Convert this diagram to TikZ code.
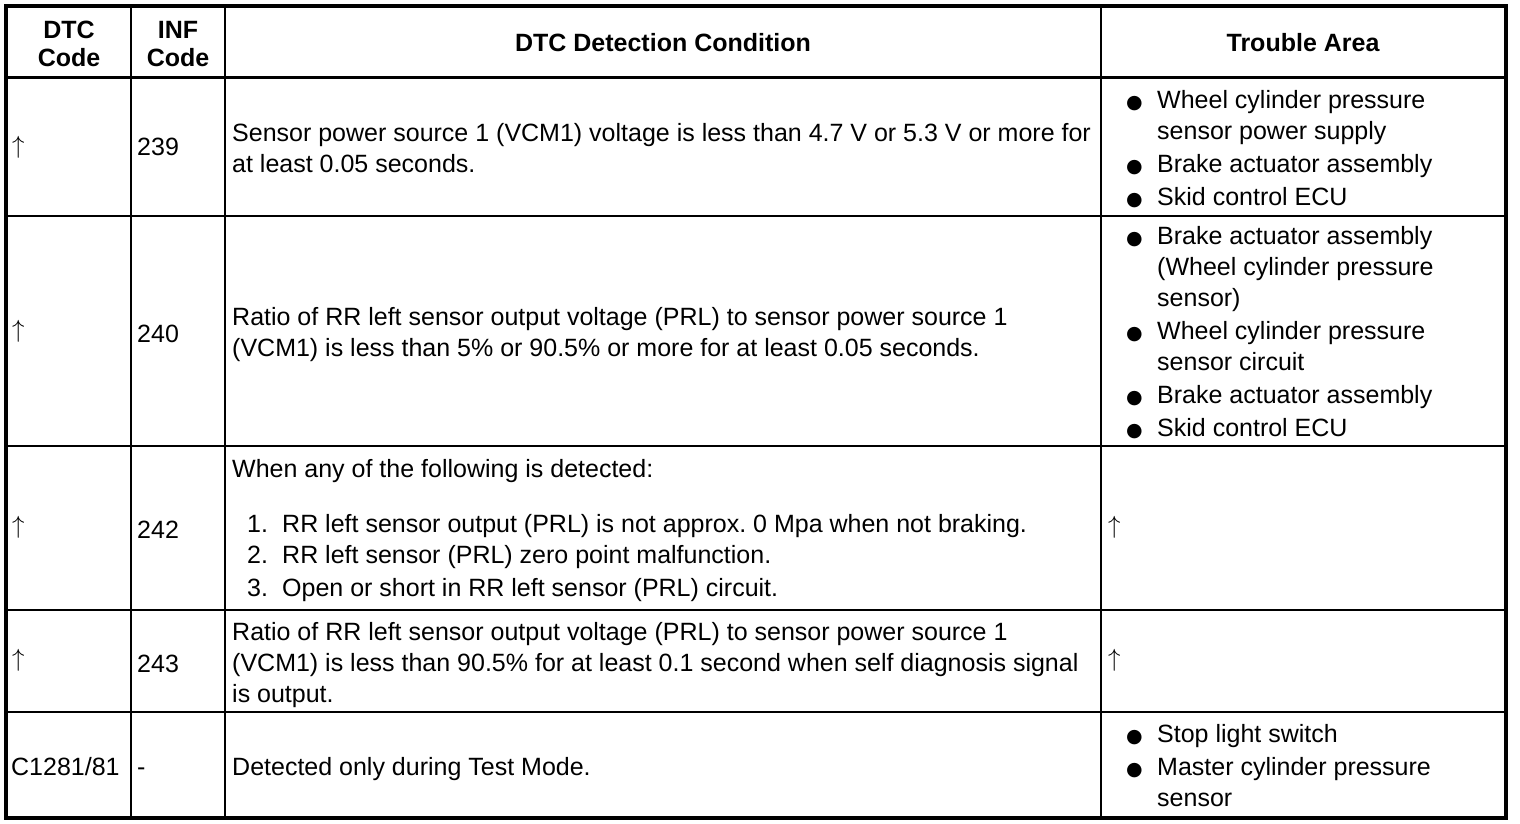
\documentclass[tikz,border=0pt]{standalone}
\usepackage{fontspec}
\setmainfont{Liberation Sans}
\newfontfamily\dejavu{DejaVu Sans}
\frenchspacing

\newcommand\bodysize{\fontsize{25}{31}\selectfont}
\newcommand\bul{\makebox[31pt][l]{{\dejavu\fontsize{19}{19}\selectfont ●}}}
\newcommand\ind{\hspace*{31pt}}
\newcommand\num[1]{\hspace*{15pt}\makebox[35pt][l]{#1}}
\newcommand\up{$\uparrow$}

\begin{document}
\begin{tikzpicture}[
        x=1pt,y=-1pt,
        frame/.style     = {line width=4pt},
        head rule/.style = {line width=3pt},
        rule/.style      = {line width=2pt},
        head/.style      = {inner sep=0pt,align=center,font=\fontsize{25}{28.5}\selectfont\bfseries},
        cell/.style      = {inner sep=0pt,anchor=west,align=left,font=\bodysize},
        one/.style       = {cell,anchor=base west}
    ]
    \useasboundingbox (0,0) rectangle (1520,824);

    % grid of the table
    \foreach \y in {216,446,610,712}
        \draw[rule] (6,\y) -- (1506,\y);
    \foreach \x in {131,225,1101}
        \draw[rule] (\x,6) -- (\x,818);
    \draw[head rule] (6,78) -- (1506,78);
    \draw[frame] (6,6) rectangle (1506,818);

    % header
    \node[head] (h dtc)  at (69,44)   {DTC\\Code};
    \node[head] (h inf)  at (178,44)  {INF\\Code};
    \node[head] (h cond) at (663,43)  {DTC Detection Condition};
    \node[head] (h area) at (1303,43) {Trouble Area};

    % INF 239
    \node[cell] (dtc1)  at (12,147)   {\up};
    \node[one]  (inf1)  at (137,156)  {239};
    \node[cell] (cond1) at (232,148)  {Sensor power source 1 (VCM1) voltage is less than 4.7 V or 5.3 V or more for\\at least 0.05 seconds.};
    \node[cell] (area1) at (1126,149) {\bul Wheel cylinder pressure\\\ind sensor power supply\\[2pt]\bul Brake actuator assembly\\[2pt]\bul Skid control ECU};

    % INF 240
    \node[cell] (dtc2)  at (12,331)   {\up};
    \node[one]  (inf2)  at (137,342)  {240};
    \node[cell] (cond2) at (232,335)  {Ratio of RR left sensor output voltage (PRL) to sensor power source 1\\(VCM1) is less than 5\% or 90.5\% or more for at least 0.05 seconds.};
    \node[cell] (area2) at (1126,333) {\bul Brake actuator assembly\\\ind (Wheel cylinder pressure\\\ind sensor)\\[2pt]\bul Wheel cylinder pressure\\\ind sensor circuit\\[2pt]\bul Brake actuator assembly\\[2pt]\bul Skid control ECU};

    % INF 242
    \node[cell] (dtc3)  at (12,527)   {\up};
    \node[one]  (inf3)  at (137,538)  {242};
    \node[cell] (cond3) at (232,531)  {When any of the following is detected:\\[24pt]\num{1.}RR left sensor output (PRL) is not approx. 0 Mpa when not braking.\\\num{2.}RR left sensor (PRL) zero point malfunction.\\[2pt]\num{3.}Open or short in RR left sensor (PRL) circuit.};
    \node[cell] (area3) at (1108,527) {\up};

    % INF 243
    \node[cell] (dtc4)  at (12,660)   {\up};
    \node[one]  (inf4)  at (137,672)  {243};
    \node[cell] (cond4) at (232,665)  {Ratio of RR left sensor output voltage (PRL) to sensor power source 1\\(VCM1) is less than 90.5\% for at least 0.1 second when self diagnosis signal\\is output.};
    \node[cell] (area4) at (1108,660) {\up};

    % test mode
    \node[one]  (dtc5)  at (11,775)   {C1281/81};
    \node[one]  (inf5)  at (137,775)  {-};
    \node[one]  (cond5) at (232,775)  {Detected only during Test Mode.};
    \node[cell] (area5) at (1126,766) {\bul Stop light switch\\[2pt]\bul Master cylinder pressure\\\ind sensor};

\end{tikzpicture}
\end{document}
